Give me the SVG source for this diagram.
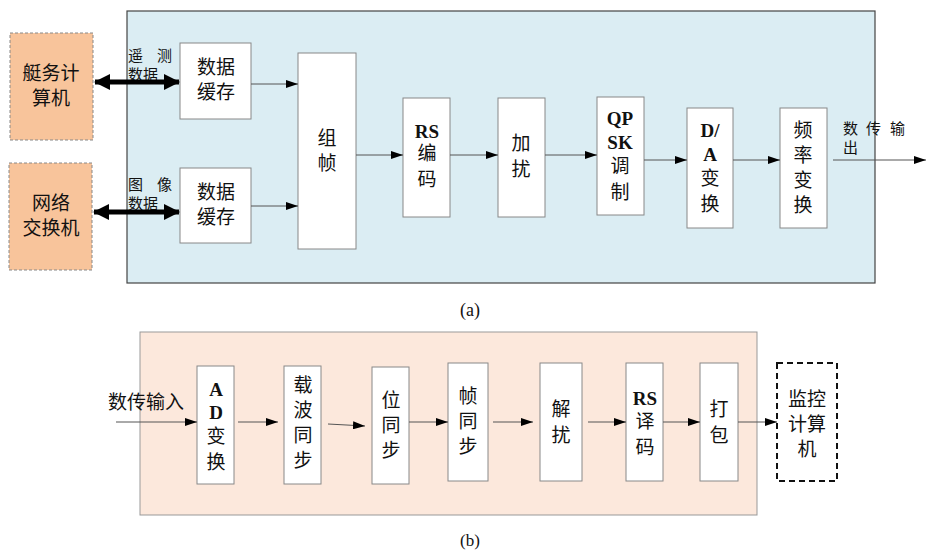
<svg xmlns="http://www.w3.org/2000/svg" width="926" height="553" viewBox="0 0 926 553">
<style>
text{font-family:"Liberation Serif","Noto Sans CJK SC",serif;fill:#111;text-anchor:middle}
.t{font-size:19px}
.s{font-size:15px;text-anchor:start}
.b{font-weight:bold;font-family:"Liberation Serif",serif}
.box{fill:#fff;stroke:#888;stroke-width:1}
.ln{stroke:#555;stroke-width:1;fill:none}
</style>
<defs>
<marker id="ar" markerWidth="12" markerHeight="8" refX="12" refY="4" orient="auto" markerUnits="userSpaceOnUse"><path d="M0,0 L12,4 L0,8 Z" fill="#000"/></marker>
<marker id="dh" markerWidth="16" markerHeight="16" refX="15" refY="8" orient="auto-start-reverse" markerUnits="userSpaceOnUse"><path d="M0,0 L16,8 L0,16 Z" fill="#000"/></marker>
</defs>
<g id="panelA">
<rect x="127" y="11" width="748" height="272" fill="#dbedf3" stroke="#444" stroke-width="1.2"/>
</g>
<g id="tingwu"><rect x="10" y="33" width="83" height="107" fill="#f8c49b" stroke="#888" stroke-dasharray="3,2"/><text class="t" x="51" y="80">艇务计</text><text class="t" x="51" y="105">算机</text></g>
<g id="wangluo"><rect x="9" y="163" width="83" height="107" fill="#f8c49b" stroke="#888" stroke-dasharray="3,2"/><text class="t" x="51" y="210">网络</text><text class="t" x="51" y="235">交换机</text></g>
<g id="buf1"><rect class="box" x="180" y="43" width="71" height="76"/><text class="t" x="216" y="74">数据</text><text class="t" x="216" y="99">缓存</text></g>
<g id="buf2"><rect class="box" x="180" y="168" width="71" height="75"/><text class="t" x="216" y="199">数据</text><text class="t" x="216" y="224">缓存</text></g>
<g id="zuzhen"><rect class="box" x="298" y="53" width="58" height="196"/><text class="t" x="327" y="145">组</text><text class="t" x="327" y="170">帧</text></g>
<g id="rs"><rect class="box" x="403" y="98" width="47" height="119"/><text class="t b" x="427" y="138" font-size="17">RS</text><text class="t" x="427" y="160">编</text><text class="t" x="427" y="186">码</text></g>
<g id="jiarao"><rect class="box" x="498" y="98" width="47" height="119"/><text class="t" x="521" y="150">加</text><text class="t" x="521" y="176">扰</text></g>
<g id="qpsk"><rect class="box" x="597" y="97" width="47" height="118"/><text class="t b" x="620" y="125" font-size="17">QP</text><text class="t b" x="620" y="149" font-size="17">SK</text><text class="t" x="620" y="173">调</text><text class="t" x="620" y="199">制</text></g>
<g id="da"><rect class="box" x="687" y="108" width="46" height="120"/><text class="t b" x="710" y="137" font-size="17">D/</text><text class="t b" x="710" y="161" font-size="17">A</text><text class="t" x="710" y="185">变</text><text class="t" x="710" y="211">换</text></g>
<g id="pinlv"><rect class="box" x="780" y="108" width="47" height="120"/><text class="t" x="803" y="137">频</text><text class="t" x="803" y="162">率</text><text class="t" x="803" y="187">变</text><text class="t" x="803" y="212">换</text></g>
<g id="labelsA">
<text class="s" x="128" y="61">遥</text><text class="s" x="157" y="61">测</text><text class="s" x="128" y="80">数据</text>
<text class="s" x="128" y="190">图</text><text class="s" x="157" y="190">像</text><text class="s" x="128" y="209">数据</text>
<text class="s" x="843" y="134">数</text><text class="s" x="866" y="134">传</text><text class="s" x="890" y="134">输</text><text class="s" x="843" y="153">出</text>
<text x="470" y="316" font-size="18">(a)</text>
</g>
<g id="connectorsA">
<line x1="95" y1="82" x2="179" y2="82" stroke="#000" stroke-width="5" marker-start="url(#dh)" marker-end="url(#dh)"/>
<line x1="94" y1="212" x2="179" y2="212" stroke="#000" stroke-width="5" marker-start="url(#dh)" marker-end="url(#dh)"/>
<line class="ln" x1="251" y1="84" x2="298" y2="84" marker-end="url(#ar)"/>
<line class="ln" x1="251" y1="206" x2="298" y2="206" marker-end="url(#ar)"/>
<line class="ln" x1="356" y1="155" x2="403" y2="155" marker-end="url(#ar)"/>
<line class="ln" x1="450" y1="155" x2="498" y2="155" marker-end="url(#ar)"/>
<line class="ln" x1="545" y1="155" x2="597" y2="155" marker-end="url(#ar)"/>
<line class="ln" x1="644" y1="160" x2="687" y2="160" marker-end="url(#ar)"/>
<line class="ln" x1="733" y1="160" x2="780" y2="160" marker-end="url(#ar)"/>
<line class="ln" x1="833" y1="160" x2="926" y2="160" marker-end="url(#ar)"/>
</g>
<g id="panelB">
<rect x="140" y="332" width="617" height="183" fill="#fce8dc" stroke="#999" stroke-width="1"/>
</g>
<g id="ad"><rect class="box" x="197" y="366" width="37" height="118"/><text class="t b" x="216" y="396" font-size="17">A</text><text class="t b" x="216" y="419" font-size="17">D</text><text class="t" x="216" y="443">变</text><text class="t" x="216" y="469">换</text></g>
<g id="zaibo"><rect class="box" x="284" y="366" width="37" height="118"/><text class="t" x="303" y="392">载</text><text class="t" x="303" y="417">波</text><text class="t" x="303" y="442">同</text><text class="t" x="303" y="467">步</text></g>
<g id="weitongbu"><rect class="box" x="372" y="367" width="37" height="117"/><text class="t" x="391" y="407">位</text><text class="t" x="391" y="432">同</text><text class="t" x="391" y="457">步</text></g>
<g id="zhentongbu"><rect class="box" x="448" y="363" width="40" height="118"/><text class="t" x="468" y="403">帧</text><text class="t" x="468" y="428">同</text><text class="t" x="468" y="453">步</text></g>
<g id="jierao"><rect class="box" x="540" y="363" width="42" height="118"/><text class="t" x="561" y="416">解</text><text class="t" x="561" y="442">扰</text></g>
<g id="rsyima"><rect class="box" x="626" y="363" width="37" height="118"/><text class="t b" x="645" y="405" font-size="17">RS</text><text class="t" x="645" y="428">译</text><text class="t" x="645" y="454">码</text></g>
<g id="dabao"><rect class="box" x="700" y="363" width="38" height="118"/><text class="t" x="719" y="416">打</text><text class="t" x="719" y="442">包</text></g>
<g id="jiankong"><rect x="777" y="363" width="60" height="118" fill="#fff" stroke="#111" stroke-width="2" stroke-dasharray="6,4"/><text class="t" x="807" y="406">监控</text><text class="t" x="807" y="431">计算</text><text class="t" x="807" y="456">机</text></g>
<g id="labelsB">
<text x="146" y="409" font-size="19">数传输入</text>
<text x="470" y="546" font-size="17">(b)</text>
</g>
<g id="connectorsB">
<line class="ln" x1="116" y1="422" x2="197" y2="422" marker-end="url(#ar)"/>
<line class="ln" x1="238" y1="422" x2="278" y2="422" marker-end="url(#ar)"/>
<line class="ln" x1="328" y1="424" x2="365" y2="426" marker-end="url(#ar)"/>
<line class="ln" x1="409" y1="422" x2="448" y2="422" marker-end="url(#ar)"/>
<line class="ln" x1="493" y1="422" x2="533" y2="422" marker-end="url(#ar)"/>
<line class="ln" x1="588" y1="422" x2="626" y2="422" marker-end="url(#ar)"/>
<line class="ln" x1="663" y1="422" x2="700" y2="422" marker-end="url(#ar)"/>
<line class="ln" x1="738" y1="422" x2="777" y2="422" marker-end="url(#ar)"/>
</g>
</svg>
